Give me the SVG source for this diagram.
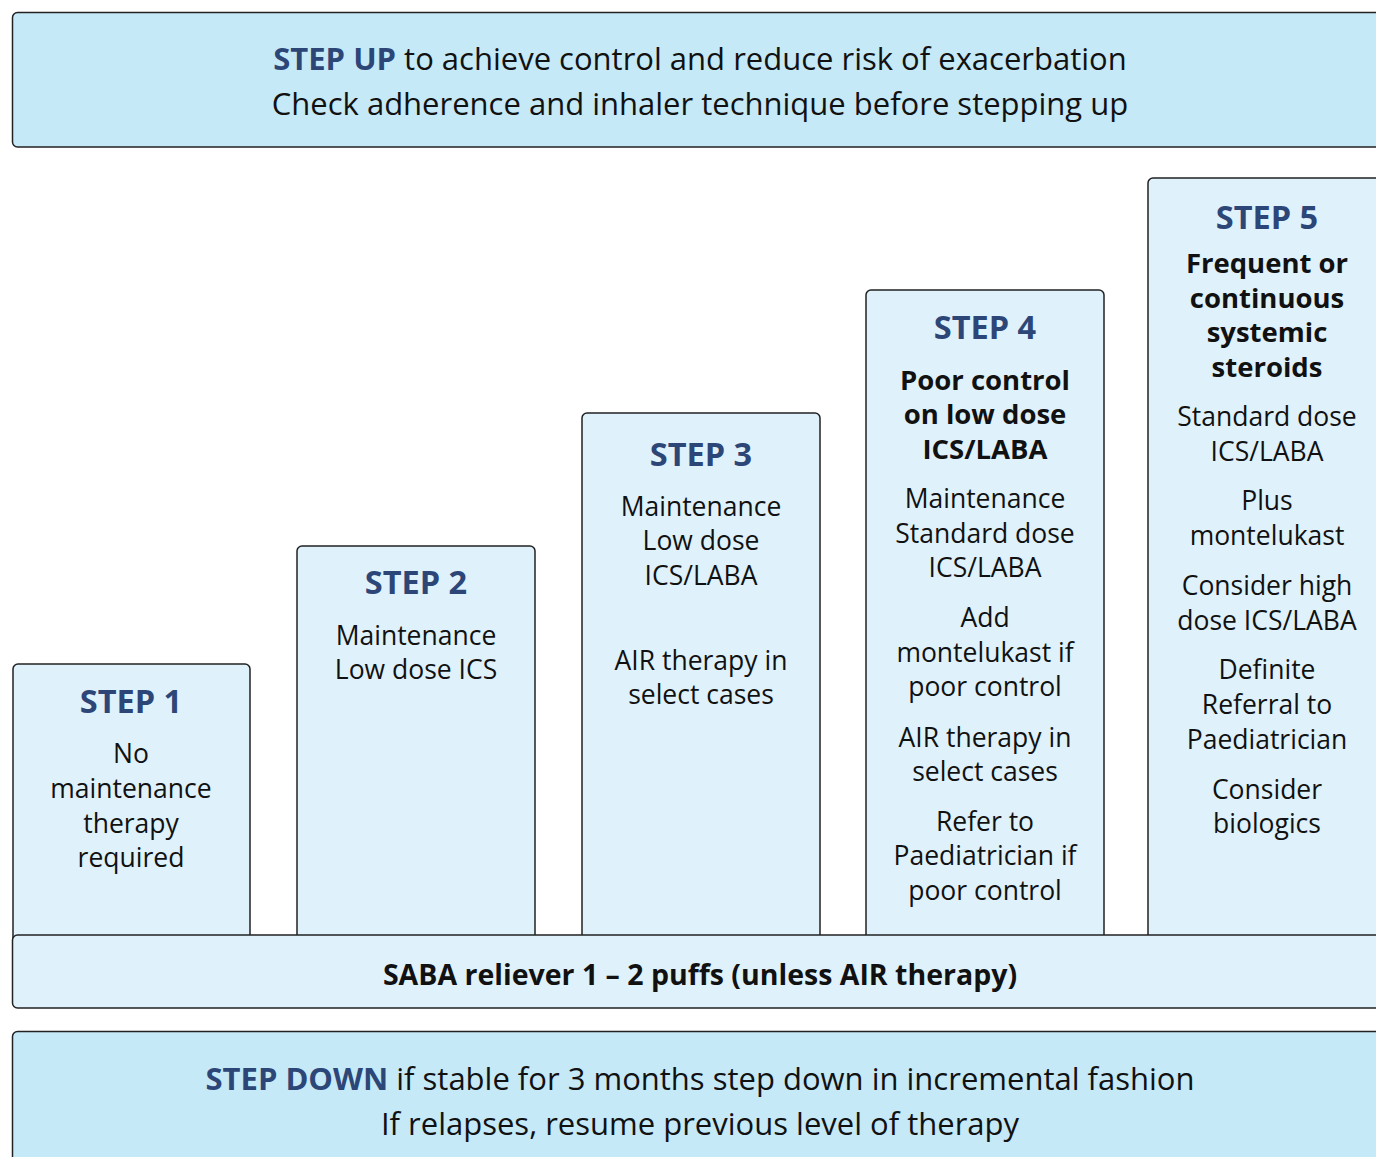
<svg xmlns="http://www.w3.org/2000/svg" width="1376" height="1157" viewBox="0 0 1376 1157">
<style>
.banner{fill:#c6e9f8;stroke:#222;stroke-width:1.5}
.step{fill:#dff1fb;stroke:#222;stroke-width:1.5}
text{font-family:"Open Sans","Noto Sans","Liberation Sans",sans-serif;text-anchor:middle;fill:#111}
.big{font-size:31px}
.ttl{font-size:32.5px;font-weight:700;fill:#2c4677}
.hd{font-size:27.5px;font-weight:700;fill:#111}
.bd{font-size:26.5px}
.nv{font-weight:700;fill:#2c4677}
.saba{font-size:28.5px;font-weight:700}
</style>
<rect width="1376" height="1157" fill="#fff"/>
<g id="step-up">
<rect class="banner" x="12.5" y="12.5" width="1380" height="134.5" rx="5"/>
<text class="big" x="700" y="70"><tspan class="nv">STEP UP</tspan> to achieve control and reduce risk of exacerbation</text>
<text class="big" x="700" y="115">Check adherence and inhaler technique before stepping up</text>
</g>
<g id="step1">
<rect class="step" x="13" y="664" width="237" height="290" rx="5"/>
<text class="ttl" x="131" y="713">STEP 1</text>
<text class="bd" x="131" y="763">No</text>
<text class="bd" x="131" y="798">maintenance</text>
<text class="bd" x="131" y="833">therapy</text>
<text class="bd" x="131" y="867">required</text>
</g>
<g id="step2">
<rect class="step" x="297" y="546" width="238" height="408" rx="5"/>
<text class="ttl" x="416" y="594">STEP 2</text>
<text class="bd" x="416" y="645">Maintenance</text>
<text class="bd" x="416" y="679">Low dose ICS</text>
</g>
<g id="step3">
<rect class="step" x="582" y="413" width="238" height="541" rx="5"/>
<text class="ttl" x="701" y="466">STEP 3</text>
<text class="bd" x="701" y="516">Maintenance</text>
<text class="bd" x="701" y="550">Low dose</text>
<text class="bd" x="701" y="585">ICS/LABA</text>
<text class="bd" x="701" y="670">AIR therapy in</text>
<text class="bd" x="701" y="704">select cases</text>
</g>
<g id="step4">
<rect class="step" x="866" y="290" width="238" height="664" rx="5"/>
<text class="ttl" x="985" y="339">STEP 4</text>
<text class="hd" x="985" y="390">Poor control</text>
<text class="hd" x="985" y="424">on low dose</text>
<text class="hd" x="985" y="459">ICS/LABA</text>
<text class="bd" x="985" y="508">Maintenance</text>
<text class="bd" x="985" y="543">Standard dose</text>
<text class="bd" x="985" y="577">ICS/LABA</text>
<text class="bd" x="985" y="627">Add</text>
<text class="bd" x="985" y="662">montelukast if</text>
<text class="bd" x="985" y="696">poor control</text>
<text class="bd" x="985" y="747">AIR therapy in</text>
<text class="bd" x="985" y="781">select cases</text>
<text class="bd" x="985" y="831">Refer to</text>
<text class="bd" x="985" y="865">Paediatrician if</text>
<text class="bd" x="985" y="900">poor control</text>
</g>
<g id="step5">
<rect class="step" x="1148" y="178" width="240" height="776" rx="5"/>
<text class="ttl" x="1267" y="229">STEP 5</text>
<text class="hd" x="1267" y="273">Frequent or</text>
<text class="hd" x="1267" y="308">continuous</text>
<text class="hd" x="1267" y="342">systemic</text>
<text class="hd" x="1267" y="377">steroids</text>
<text class="bd" x="1267" y="426">Standard dose</text>
<text class="bd" x="1267" y="461">ICS/LABA</text>
<text class="bd" x="1267" y="510">Plus</text>
<text class="bd" x="1267" y="545">montelukast</text>
<text class="bd" x="1267" y="595">Consider high</text>
<text class="bd" x="1267" y="630">dose ICS/LABA</text>
<text class="bd" x="1267" y="679">Definite</text>
<text class="bd" x="1267" y="714">Referral to</text>
<text class="bd" x="1267" y="749">Paediatrician</text>
<text class="bd" x="1267" y="799">Consider</text>
<text class="bd" x="1267" y="833">biologics</text>
</g>
<g id="saba">
<rect class="step" x="12.5" y="935" width="1380" height="73" rx="5"/>
<text class="saba" x="700" y="985">SABA reliever 1 – 2 puffs (unless AIR therapy)</text>
</g>
<g id="step-down">
<rect class="banner" x="12.5" y="1031.5" width="1380" height="150" rx="5"/>
<text class="big" x="700" y="1090"><tspan class="nv">STEP DOWN</tspan> if stable for 3 months step down in incremental fashion</text>
<text class="big" x="700" y="1135">If relapses, resume previous level of therapy</text>
</g>
<g id="connectors"/>
</svg>
